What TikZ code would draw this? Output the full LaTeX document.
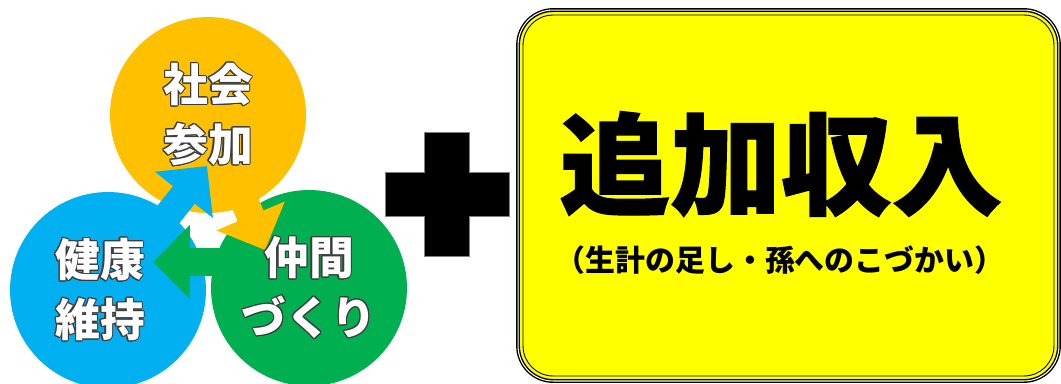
\documentclass[tikz,border=0pt]{standalone}
\usepackage{fontspec}
\usepackage{contour}
\usepackage{tikz}
\usetikzlibrary{arrows.meta, positioning}
\newfontfamily\jpfont{Noto Sans CJK JP}
\newfontfamily\jpheavy{Noto Sans CJK JP}[BoldFeatures={FakeBold=1.2}]
\definecolor{shakaicolor}{RGB}{255,192,0}
\definecolor{kenkocolor}{RGB}{0,176,240}
\definecolor{nakamacolor}{RGB}{0,176,80}
\definecolor{incomecolor}{RGB}{255,255,0}
\definecolor{rimcolor}{RGB}{60,60,60}
\contourlength{0.6pt}
\contournumber{16}
\newcommand{\rimtext}[1]{\contour{rimcolor}{#1}}

\begin{document}
\begin{tikzpicture}[x=0.02cm, y=-0.02cm,
    circ/.style={circle, minimum size=3.92cm, inner sep=0pt},
    circtext/.style={text=white, align=center, font=\jpfont\bfseries\fontsize{25.5}{34}\selectfont},
    cyclearrow/.style={line width=0.56cm, -{Triangle[length=0.74cm, width=1.44cm]}},
    incomebox/.style={fill=incomecolor, draw=black, double=white, line width=0.8pt,
        double distance=0.6pt, rounded corners=0.7cm, minimum width=10.82cm, minimum height=7.42cm}]
    \clip (0,0) rectangle (1061,383);

    % three circles
    \node[circ, fill=kenkocolor] (kenko) at (108,290) {};
    \node[circ, fill=nakamacolor] (nakama) at (309,288) {};
    \node[circ, fill=shakaicolor] (shakai) at (208,115) {};

    % arrow tips
    \coordinate (toshakai) at (207,166);
    \coordinate (tonakama) at (265,250);
    \coordinate (tokenko) at (153,262);

    % cycle arrows
    \draw[cyclearrow, nakamacolor] (nakama.center |- tokenko) -- (tokenko);
    \draw[cyclearrow, kenkocolor] (kenko.center) -- (toshakai);
    \draw[cyclearrow, shakaicolor] (shakai.center) -- (tonakama);

    % circle labels
    \node[circtext] at (shakai) {\rimtext{社会}\\\rimtext{参加}};
    \node[circtext] at ([xshift=-0.16cm]kenko.center) {\rimtext{健康}\\\rimtext{維持}};
    \node[circtext] at (nakama) {\rimtext{仲間}\\\rimtext{づくり}};

    % plus sign
    \filldraw[black, draw=gray, line width=0.4pt]
        (424,132) -- (469,132) -- (469,172) -- (509,172) -- (509,216) -- (469,216)
        -- (469,256) -- (424,256) -- (424,216) -- (385,216) -- (385,172) -- (424,172) -- cycle;

    % income box
    \node[incomebox] (income) at (788.5,195.5) {};
    \node[draw=black, line width=0.5pt, rounded corners=0.6cm,
        minimum width=10.62cm, minimum height=7.22cm] (incomerim) at (income) {};
    \node[font=\jpheavy\bfseries\fontsize{63}{63}\selectfont] (title) at (781,164) {追加収入};
    \node[font=\jpfont\bfseries\fontsize{17}{17}\selectfont] (note) at (780,260) {（生計の足し・孫へのこづかい）};
\end{tikzpicture}
\end{document}
